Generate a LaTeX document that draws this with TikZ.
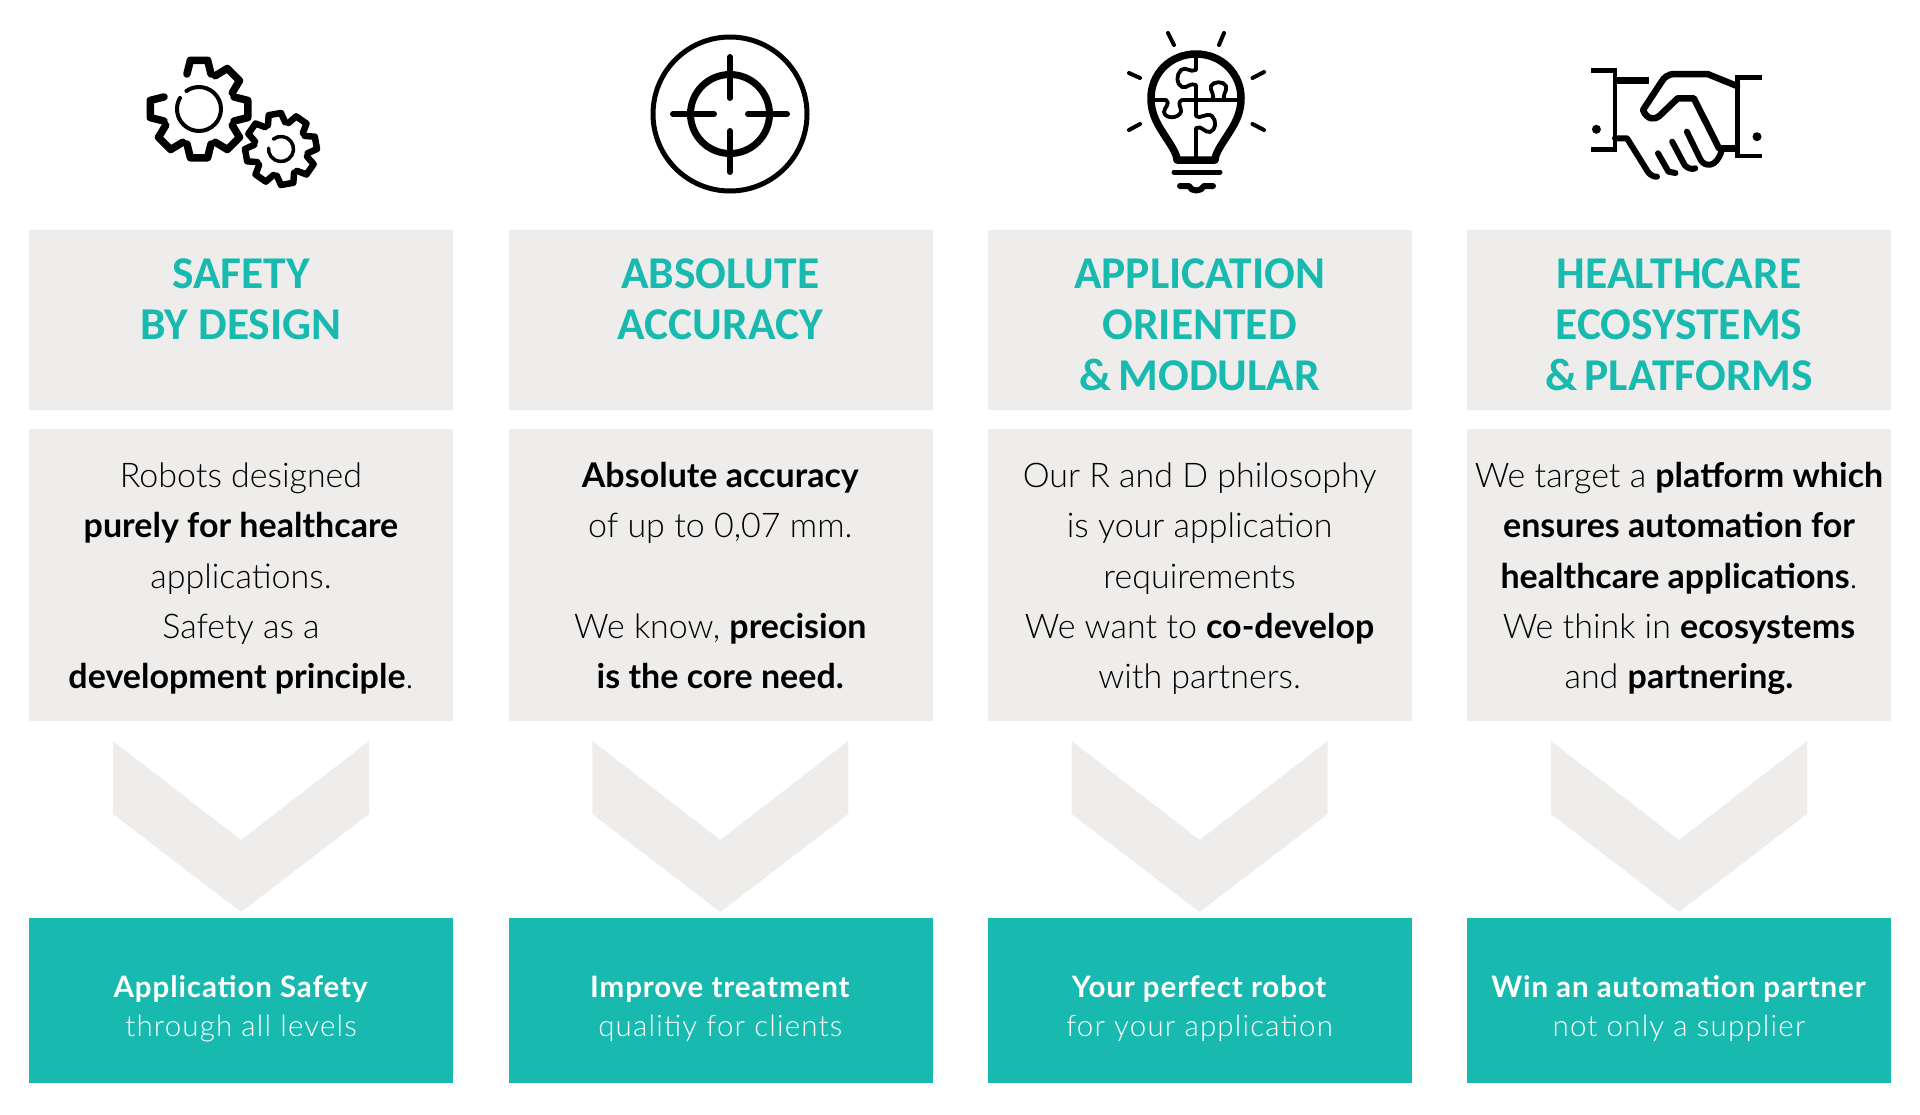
\documentclass[tikz,border=0pt]{standalone}
\usepackage{fontspec}
\setmainfont{Lato Light}[BoldFont={Lato Bold}]
\newfontfamily\headfont{Carlito Bold}
\newfontfamily\footfont[LetterSpace=4,BoldFont={Lato Bold},BoldFeatures={LetterSpace=3}]{Lato Light}
\definecolor{teal1}{RGB}{24,186,176}
\definecolor{gray1}{RGB}{238,237,235}
\tikzset{
  x=1pt,y=-1pt,
  panel/.style={fill=gray1,draw=none,inner sep=0,minimum width=424pt,anchor=north west},
  tealpanel/.style={fill=teal1,draw=none,inner sep=0,minimum width=424pt,anchor=north west},
  headtxt/.style={text=teal1,align=center,inner sep=0,anchor=north,font=\headfont\fontsize{45.5}{50.7}\selectfont},
  bodytxt/.style={text=black,align=center,inner sep=0,anchor=north,font=\fontsize{34}{50.3}\selectfont},
  foottxt/.style={text=white,align=center,inner sep=0,anchor=north,font=\footfont\fontsize{29.5}{39}\selectfont},
  ic/.style={draw=black,line cap=round,line join=round,fill=none},
}
\newcommand{\fs}{\rule{0pt}{36pt}}
\newcommand{\robotcol}[5]{%
  \node[panel,minimum height=180pt] (h#2) at (#1,230) {};
  \node[panel,minimum height=292pt] (b#2) at (#1,429) {};
  \node[tealpanel,minimum height=165pt] (f#2) at (#1,918) {};
  \node[headtxt] (ht#2) at (#1+212,288.6-36) {\fs #3};
  \node[bodytxt] (bt#2) at (#1+212,487.3-36) {\fs #4};
  \node[foottxt] (ft#2) at (#1+212,997-36) {\fs #5};
  \fill[gray1] (#1+84,741) -- (#1+212,840) -- (#1+340,741) -- (#1+340,814) -- (#1+212,912) -- (#1+84,814) -- cycle;
}
% gear: cx cy R r rot gapindex lw
\newcommand{\gearicon}[7]{%
  \foreach \k in {0,...,7}{
    \pgfmathsetmacro{\a}{#5+45*\k}
    \ifnum\k=#6\relax\else
    \draw[ic,line width=#7pt] ($(#1,#2)+(\a-19:#4 and -#4)$) -- ($(#1,#2)+(\a-10:#3 and -#3)$) -- ($(#1,#2)+(\a+10:#3 and -#3)$) -- ($(#1,#2)+(\a+19:#4 and -#4)$);
    \fi
  }
}
\usetikzlibrary{calc}
\begin{document}
\begin{tikzpicture}
\useasboundingbox (0,0) rectangle (1920,1114);
\fill[white] (0,0) rectangle (1920,1114);
\robotcol{29}{a}{SAFETY\\BY DESIGN}{Robots designed\\\textbf{purely for healthcare}\\applications.\\Safety as a\\\textbf{development principle}.}{\textbf{Application Safety}\\through all levels}
\robotcol{508.3}{b}{ABSOLUTE\\ACCURACY}{\textbf{Absolute accuracy}\\of up to 0,07 mm.\\[50.3pt]We know, \textbf{precision}\\\textbf{is the core need.}}{\textbf{Improve treatment}\\qualitiy for clients}
\robotcol{987.6}{c}{APPLICATION\\ORIENTED\\\&\,MODULAR}{Our R and D philosophy\\is your application\\requirements\\We want to \textbf{co-develop}\\with partners.}{\textbf{Your perfect robot}\\for your application}
\robotcol{1467}{d}{HEALTHCARE\\ECOSYSTEMS\\\&\,PLATFORMS}{We target a \textbf{platform which}\\\textbf{ensures automation for}\\\textbf{healthcare applications}.\\We think in \textbf{ecosystems}\\and \textbf{partnering.}}{\textbf{Win an automation partner}\\not only a supplier}
% gears
\gearicon{199}{109}{49.5}{37}{0}{3}{7.5}
\draw[ic,line width=4pt] ($(199,109)+(125:22 and -22)$) arc[start angle=-125,end angle=210,x radius=22pt,y radius=-22pt];
\gearicon{281}{149}{36}{27}{10}{9}{6.5}
\draw[ic,line width=3.5pt] ($(281,149)+(128:12.5 and -12.5)$) arc[start angle=-128,end angle=184,x radius=12.5pt,y radius=-12.5pt];
% target
\draw[ic,line width=5pt] (730,114) circle[radius=77];
\draw[ic,line width=7pt] (730,114) circle[radius=39.5];
\draw[ic,line width=6pt] (730,57) -- (730,98) (730,131) -- (730,172) (673,114) -- (714,114) (748,114) -- (787,114);
% bulb
\draw[ic,line width=4pt] (1168,33) -- (1174,45) (1224,33) -- (1219,45) (1129,73) -- (1140,78) (1264,72) -- (1252.5,78) (1129,130) -- (1140,124) (1264,130) -- (1252.5,124);
\draw[ic,line width=7.5pt] (1196,54) .. controls (1170,54) and (1151,74) .. (1151,98) .. controls (1151,115) and (1158,125) .. (1165,136) .. controls (1173,148) and (1177,155) .. (1177,160) -- (1215,160) .. controls (1215,155) and (1219,148) .. (1227,136) .. controls (1234,125) and (1241,115) .. (1241,98) .. controls (1241,74) and (1222,54) .. (1196,54) -- cycle;
\draw[ic,line width=3.8pt] (1196,54) -- (1196,70) .. controls (1190,73) and (1186,66) .. (1181,70) .. controls (1176,75) and (1176,84) .. (1182,87) .. controls (1187,89) and (1190,82) .. (1196,85) -- (1196,100);
\draw[ic,line width=3.8pt] (1153,100) -- (1166,100) .. controls (1171,103) and (1164,108) .. (1164,112) .. controls (1165,119) and (1178,119) .. (1181,112) .. controls (1182,108) and (1176,103) .. (1182,100) -- (1238,100);
\draw[ic,line width=3.8pt] (1211,100) .. controls (1217,97) and (1209,90) .. (1211,86) .. controls (1213,81) and (1224,81) .. (1226,86) .. controls (1228,91) and (1220,97) .. (1226,100);
\draw[ic,line width=3.8pt] (1196,100) -- (1196,116) .. controls (1200,120) and (1206,112) .. (1212,116) .. controls (1217,121) and (1216,130) .. (1210,132) .. controls (1205,133) and (1201,125) .. (1196,128) -- (1196,158);
\draw[ic,line width=5pt] (1174,172) -- (1220,172);
\draw[ic,line width=6pt] (1180,186) -- (1189,186) .. controls (1191,192) and (1201,192) .. (1204,186) -- (1213,186);
% handshake
\draw[draw=black,fill=none,line width=4.5pt,line join=miter] (1591.4,70.7) -- (1614.8,70.7) -- (1614.8,149.3) -- (1591.4,149.3);
\draw[draw=black,fill=none,line width=4.5pt,line join=miter] (1761.7,77.3) -- (1737.4,77.3) -- (1737.4,156) -- (1761.7,156);
\fill (1596.4,129.3) circle[radius=4.5];
\fill (1757,136.7) circle[radius=4.5];
\draw[line width=7pt] (1615,80) -- (1649,80);
\draw[ic,line width=6.5pt] (1737,86) -- (1707.5,74) -- (1675.4,74) .. controls (1667,74) and (1664,78) .. (1661.6,81.7) -- (1643,110) .. controls (1647,120) and (1655,120) .. (1659.3,116) -- (1677.7,98.3) -- (1693.8,98.3) -- (1719,148.3);
\draw[line width=6.5pt] (1718,148.3) -- (1737,148.3);
\draw[ic,line width=6pt] (1686.9,131.7) -- (1700.7,160) .. controls (1705,167) and (1716,168) .. (1721.3,151.7);
\draw[ic,line width=6pt] (1672.2,141.7) -- (1684.6,165) .. controls (1687,168) and (1692,170) .. (1695.2,168.3);
\draw[ic,line width=6pt] (1658,153.3) -- (1668.5,171.7) -- (1675.4,173);
\draw[ic,line width=6pt] (1615,138.3) -- (1627,138.3) -- (1647.8,171.7) .. controls (1650,175) and (1654,177) .. (1657,176.7);
\end{tikzpicture}
\end{document}
